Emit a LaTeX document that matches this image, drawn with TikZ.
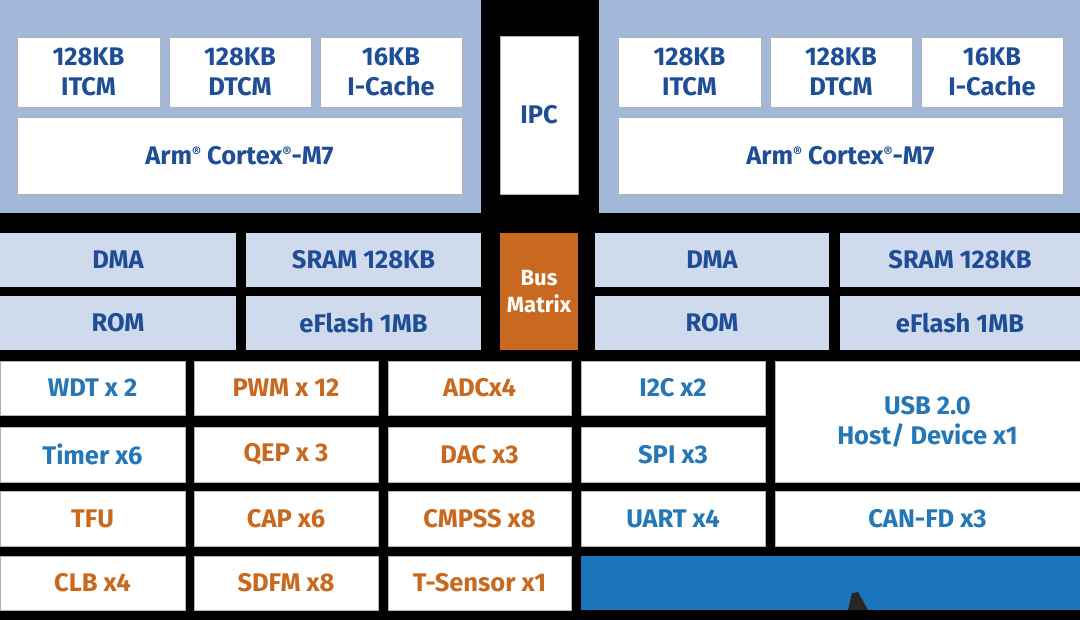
\documentclass[tikz,border=0pt]{standalone}
\usepackage{fontspec}
\setmainfont{Fira Sans}
\definecolor{bigbox}{HTML}{A3B8D8}
\definecolor{lightbox}{HTML}{CFDAEC}
\definecolor{dblue}{HTML}{1F4E96}
\definecolor{mblue}{HTML}{2677B5}
\definecolor{orng}{HTML}{C8691F}
\definecolor{band}{HTML}{1B75BC}
\tikzset{x=1pt,y=-1pt,
  bx/.style={fill=white,draw=gray!60,line width=0.8pt},
  tx/.style={font=\fontsize{25.5}{30}\selectfont\bfseries,align=center},
}
\begin{document}
\begin{tikzpicture}
\fill[black] (0,0) rectangle (1080,620);
\useasboundingbox (0,0) rectangle (1080,620);
% top big boxes
\fill[bigbox] (0,0) rectangle (481,213);
\fill[bigbox] (599,0) rectangle (1080,213);
\foreach \o/\s in {0/L,601/R}{
  \draw[bx] (17+\o,37) rectangle (160+\o,107) node[midway,tx,text=dblue] (itcm\s) {128KB\\ITCM};
  \draw[bx] (169+\o,37) rectangle (311+\o,107) node[midway,tx,text=dblue] (dtcm\s) {128KB\\DTCM};
  \draw[bx] (320+\o,37) rectangle (462+\o,107) node[midway,tx,text=dblue] (icache\s) {16KB\\I-Cache};
  \draw[bx] (17+\o,117) rectangle (462+\o,194) node[midway,tx,text=dblue] (cortex\s) {Arm\raisebox{0.5ex}{\fontsize{14}{14}\selectfont\textregistered} Cortex\raisebox{0.5ex}{\fontsize{14}{14}\selectfont\textregistered}-M7};
}
\draw[bx] (500,36) rectangle (578,194) node[midway,tx,text=dblue] (ipc) {IPC};
% memory row
\fill[lightbox] (0,233) rectangle (236,287) node[midway,tx,text=dblue] (dmaL) {DMA};
\fill[lightbox] (246,233) rectangle (481,287) node[midway,tx,text=dblue] (sramL) {SRAM 128KB};
\fill[lightbox] (0,296) rectangle (236,350) node[midway,tx,text=dblue] (romL) {ROM};
\fill[lightbox] (246,296) rectangle (481,350) node[midway,tx,text=dblue] (eflL) {eFlash 1MB};
\fill[orng] (500,233) rectangle (578,350) node[midway,tx,text=white,font=\fontsize{22}{27}\selectfont\bfseries] (bus) {Bus\\Matrix};
\fill[lightbox] (595,233) rectangle (829,287) node[midway,tx,text=dblue] (dmaR) {DMA};
\fill[lightbox] (840,233) rectangle (1080,287) node[midway,tx,text=dblue] (sramR) {SRAM 128KB};
\fill[lightbox] (595,296) rectangle (829,350) node[midway,tx,text=dblue] (romR) {ROM};
\fill[lightbox] (840,296) rectangle (1080,350) node[midway,tx,text=dblue] (eflR) {eFlash 1MB};
% peripheral grid
\draw[bx] (0,361) rectangle (185,415) node[midway,tx,text=mblue] (wdt) {WDT x 2};
\draw[bx] (0,427) rectangle (185,482) node[midway,tx,text=mblue] (timer) {Timer x6};
\draw[bx] (0,491) rectangle (185,546) node[midway,tx,text=orng] (tfu) {TFU};
\draw[bx] (0,556) rectangle (185,610) node[midway,tx,text=orng] (clb) {CLB x4};
\draw[bx] (194,361) rectangle (378,415) node[midway,tx,text=orng] (pwm) {PWM x 12};
\draw[bx] (194,427) rectangle (378,482) node[midway,tx,text=orng] (qep) {QEP x 3};
\draw[bx] (194,491) rectangle (378,546) node[midway,tx,text=orng] (cap) {CAP x6};
\draw[bx] (194,556) rectangle (378,610) node[midway,tx,text=orng] (sdfm) {SDFM x8};
\draw[bx] (388,361) rectangle (571,415) node[midway,tx,text=orng] (adc) {ADCx4};
\draw[bx] (388,427) rectangle (571,482) node[midway,tx,text=orng] (dac) {DAC x3};
\draw[bx] (388,491) rectangle (571,546) node[midway,tx,text=orng] (cmpss) {CMPSS x8};
\draw[bx] (388,556) rectangle (571,610) node[midway,tx,text=orng] (tsens) {T-Sensor x1};
\draw[bx] (581,361) rectangle (765,415) node[midway,tx,text=mblue] (i2c) {I2C x2};
\draw[bx] (581,427) rectangle (765,482) node[midway,tx,text=mblue] (spi) {SPI x3};
\draw[bx] (581,491) rectangle (765,546) node[midway,tx,text=mblue] (uart) {UART x4};
\draw[bx] (775,361) rectangle (1080,482) node[midway,tx,text=mblue] (usb) {USB 2.0\\Host/ Device x1};
\draw[bx] (775,491) rectangle (1080,546) node[midway,tx,text=mblue] (can) {CAN-FD x3};
\fill[band] (581,556) rectangle (1080,610);
\fill[black!85] (848,610) -- (852,593) -- (858,592) -- (868,610) -- cycle;
\end{tikzpicture}
\end{document}
